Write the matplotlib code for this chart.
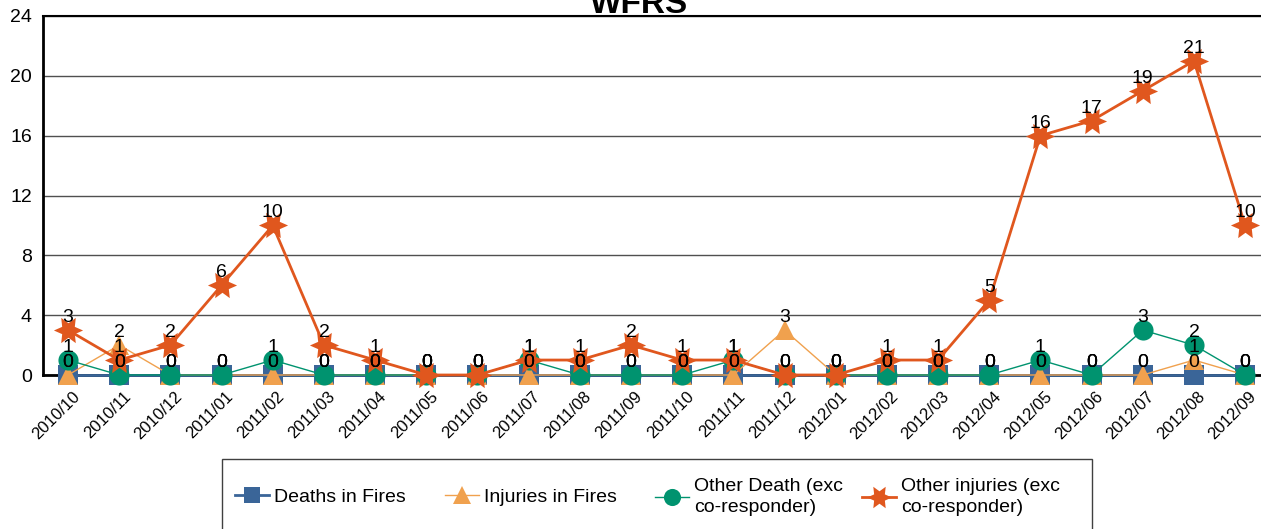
import matplotlib
matplotlib.use('Agg')
import matplotlib.pyplot as plt
import matplotlib.transforms as mtransforms
from matplotlib.patches import Rectangle
import numpy as np

plt.rcParams['font.family'] = ['Liberation Sans', 'DejaVu Sans']

months = ['2010/10', '2010/11', '2010/12', '2011/01', '2011/02', '2011/03',
          '2011/04', '2011/05', '2011/06', '2011/07', '2011/08', '2011/09',
          '2011/10', '2011/11', '2011/12', '2012/01', '2012/02', '2012/03',
          '2012/04', '2012/05', '2012/06', '2012/07', '2012/08', '2012/09']

deaths_fires = [0, 0, 0, 0, 0, 0, 0, 0, 0, 0, 0, 0,
                0, 0, 0, 0, 0, 0, 0, 0, 0, 0, 0, 0]
injuries_fires = [0, 2, 0, 0, 0, 0, 0, 0, 0, 0, 0, 0,
                  0, 0, 3, 0, 0, 0, 0, 0, 0, 0, 1, 0]
other_death = [1, 0, 0, 0, 1, 0, 0, 0, 0, 1, 0, 0,
               0, 1, 0, 0, 0, 0, 0, 1, 0, 3, 2, 0]
other_injuries = [3, 1, 2, 6, 10, 2, 1, 0, 0, 1, 1, 2,
                  1, 1, 0, 0, 1, 1, 5, 16, 17, 19, 21, 10]

yticks = [0, 4, 8, 12, 16, 20, 24]

W, H = 1261, 529
fig = plt.figure(figsize=(W / 100, H / 100), dpi=100)
ax = fig.add_axes([43 / W, 1 - 375 / H, (W - 43) / W, (375 - 16) / H])

x = np.arange(len(months))

series = [
    (deaths_fires, 'Deaths in Fires', '#3A6598', 's', 14, 2.0, 3),
    (injuries_fires, 'Injuries in Fires', '#F0A14E', '^', 15, 1.0, 4),
    (other_death, 'Other Death (exc\nco-responder)', '#00936F', 'o', 14.5, 1.0, 5),
    (other_injuries, 'Other injuries (exc\nco-responder)', '#E0571E', (6, 1, 30), 21, 2.0, 6),
]

handles = []
for vals, name, col, mk, ms, lw, z in series:
    ln, = ax.plot(x, vals, color=col, lw=lw, marker=mk, markersize=ms,
                  markeredgewidth=0, label=name, zorder=z, clip_on=False)
    handles.append(ln)

# data labels above every point
for vals, name, col, mk, ms, lw, z in series:
    for xi, v in zip(x, vals):
        ax.annotate(str(v), (xi, v), xytext=(0, 5.8), textcoords='offset points',
                    ha='center', va='baseline', fontsize=14, zorder=10,
                    annotation_clip=False)

ax.set_xlim(-0.49, 23.31)
ax.set_ylim(0, 24)
ax.set_yticks(yticks)
ax.set_xticks(x)
ax.set_xticklabels(months, rotation=45, ha='right', rotation_mode='anchor',
                   va='center', fontsize=12)
ax.tick_params(axis='both', length=0)
ax.tick_params(axis='y', pad=8, labelsize=14)
ax.tick_params(axis='x', pad=14)
shift = mtransforms.ScaledTranslation(9 / 100, 0, fig.dpi_scale_trans)
for lab in ax.get_xticklabels():
    lab.set_transform(lab.get_transform() + shift)

ax.grid(axis='y', color='#505050', lw=1.0)
ax.set_axisbelow(True)
ax.spines['right'].set_visible(False)
ax.spines['left'].set_linewidth(2)
ax.spines['bottom'].set_linewidth(2)
ax.spines['top'].set_linewidth(1.5)

fig.text(639 / W, 1 - 13 / H, 'WFRS', ha='center', va='baseline',
         fontsize=24, fontweight='bold')

# legend: box running off the bottom, four equal-width columns
fig.add_artist(Rectangle((222 / W, -0.1), 870 / W, 1 - 459 / H + 0.1,
                         transform=fig.transFigure, fill=False,
                         edgecolor='#404040', lw=1))
for h, xpos in zip(handles, [235, 445, 655, 862]):
    lg = fig.legend([h], [h.get_label()], loc='center left',
                    bbox_to_anchor=(xpos / W, 1 - 497 / H), frameon=False,
                    fontsize=14, handlelength=1.75, handletextpad=0.25,
                    borderpad=0, borderaxespad=0, markerscale=0.85)
    for t in lg.get_texts():
        t.set_linespacing(1.3)

plt.savefig('out.png', dpi=100)
